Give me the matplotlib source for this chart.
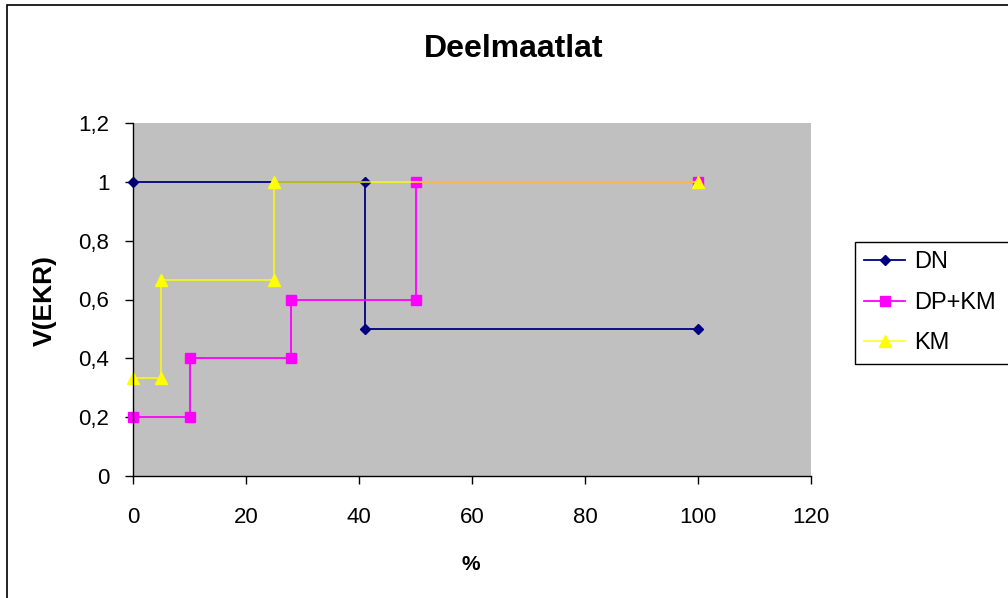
import matplotlib
matplotlib.use("Agg")
import matplotlib.pyplot as plt
from matplotlib.patches import Rectangle
from matplotlib.ticker import FuncFormatter

plt.rcParams['font.family'] = ['Liberation Sans', 'DejaVu Sans']

# data (step points)
dn_x = [0, 41, 41, 100]
dn_y = [1, 1, 0.5, 0.5]
dpkm_x = [0, 10, 10, 28, 28, 50, 50, 100]
dpkm_y = [0.2, 0.2, 0.4, 0.4, 0.6, 0.6, 1, 1]
km_x = [0, 5, 5, 25, 25, 100]
km_y = [0.333, 0.333, 0.667, 0.667, 1, 1]

x_ticks = [0, 20, 40, 60, 80, 100, 120]
y_ticks = [0, 0.2, 0.4, 0.6, 0.8, 1.0, 1.2]

fig = plt.figure(figsize=(10.08, 5.98), dpi=100)
fig.patch.set_facecolor('white')

# outer chart border (cut off at right and bottom like the original)
fig.patches.append(Rectangle((7 / 1008, -0.05), 1.1, 1 - 5 / 598 + 0.05,
                             transform=fig.transFigure, fill=False,
                             edgecolor='black', linewidth=1.2))

ax = fig.add_axes([133 / 1008, 1 - 476 / 598, (811 - 133) / 1008, (476 - 123) / 598])
ax.set_facecolor('#C0C0C0')

ax.plot(dn_x, dn_y, color='#000080', marker='D', markersize=5.5, linewidth=1.3,
        label='DN', clip_on=False)
ax.plot(dpkm_x, dpkm_y, color='#FF00FF', marker='s', markersize=6.5, linewidth=1.3,
        label='DP+KM', clip_on=False)
# semi-transparent line gives the olive/orange blend where it overlaps
ax.plot(km_x, km_y, color=(1, 1, 0, 0.7), marker='^', markersize=8, linewidth=1.5,
        markerfacecolor='#FFFF00', markeredgecolor='#FFFF00',
        label='KM', clip_on=False)

ax.set_xlim(0, 120)
ax.set_ylim(0, 1.2)
ax.set_xticks(x_ticks)
ax.set_yticks(y_ticks)

def comma_fmt(v, pos):
    s = ('%.1f' % v).rstrip('0').rstrip('.')
    return s.replace('.', ',')

ax.xaxis.set_major_formatter(FuncFormatter(lambda v, p: '%d' % v))
ax.yaxis.set_major_formatter(FuncFormatter(comma_fmt))
ax.tick_params(direction='out', length=6, width=1, labelsize=16)
ax.tick_params(axis='x', pad=16)
ax.tick_params(axis='y', pad=11)

for side in ['top', 'right']:
    ax.spines[side].set_visible(False)
for side in ['left', 'bottom']:
    ax.spines[side].set_color('black')
    ax.spines[side].set_linewidth(1)

fig.text(471 / 1008, 1 - 565 / 598, '%', fontsize=15, fontweight='bold',
         ha='center', va='center')
fig.text(45 / 1008, 1 - 300 / 598, 'V(EKR)', fontsize=19, fontweight='bold',
         ha='center', va='center', rotation=90)
fig.text(514 / 1008, 1 - 57 / 598, 'Deelmaatlat', fontsize=23, fontweight='bold',
         ha='center', va='baseline')

# legend box runs past the right edge of the picture, as in the original
leg = fig.legend(loc='upper left', bbox_to_anchor=(855 / 1008, 1 - 242 / 598, 0.2, 0),
                 mode='expand', fontsize=17, fancybox=False, edgecolor='black',
                 framealpha=1, handlelength=1.7, borderaxespad=0, labelspacing=0.78,
                 borderpad=0.4, handletextpad=0.4)
leg.get_frame().set_linewidth(1)

fig.savefig('out.png', dpi=100)
